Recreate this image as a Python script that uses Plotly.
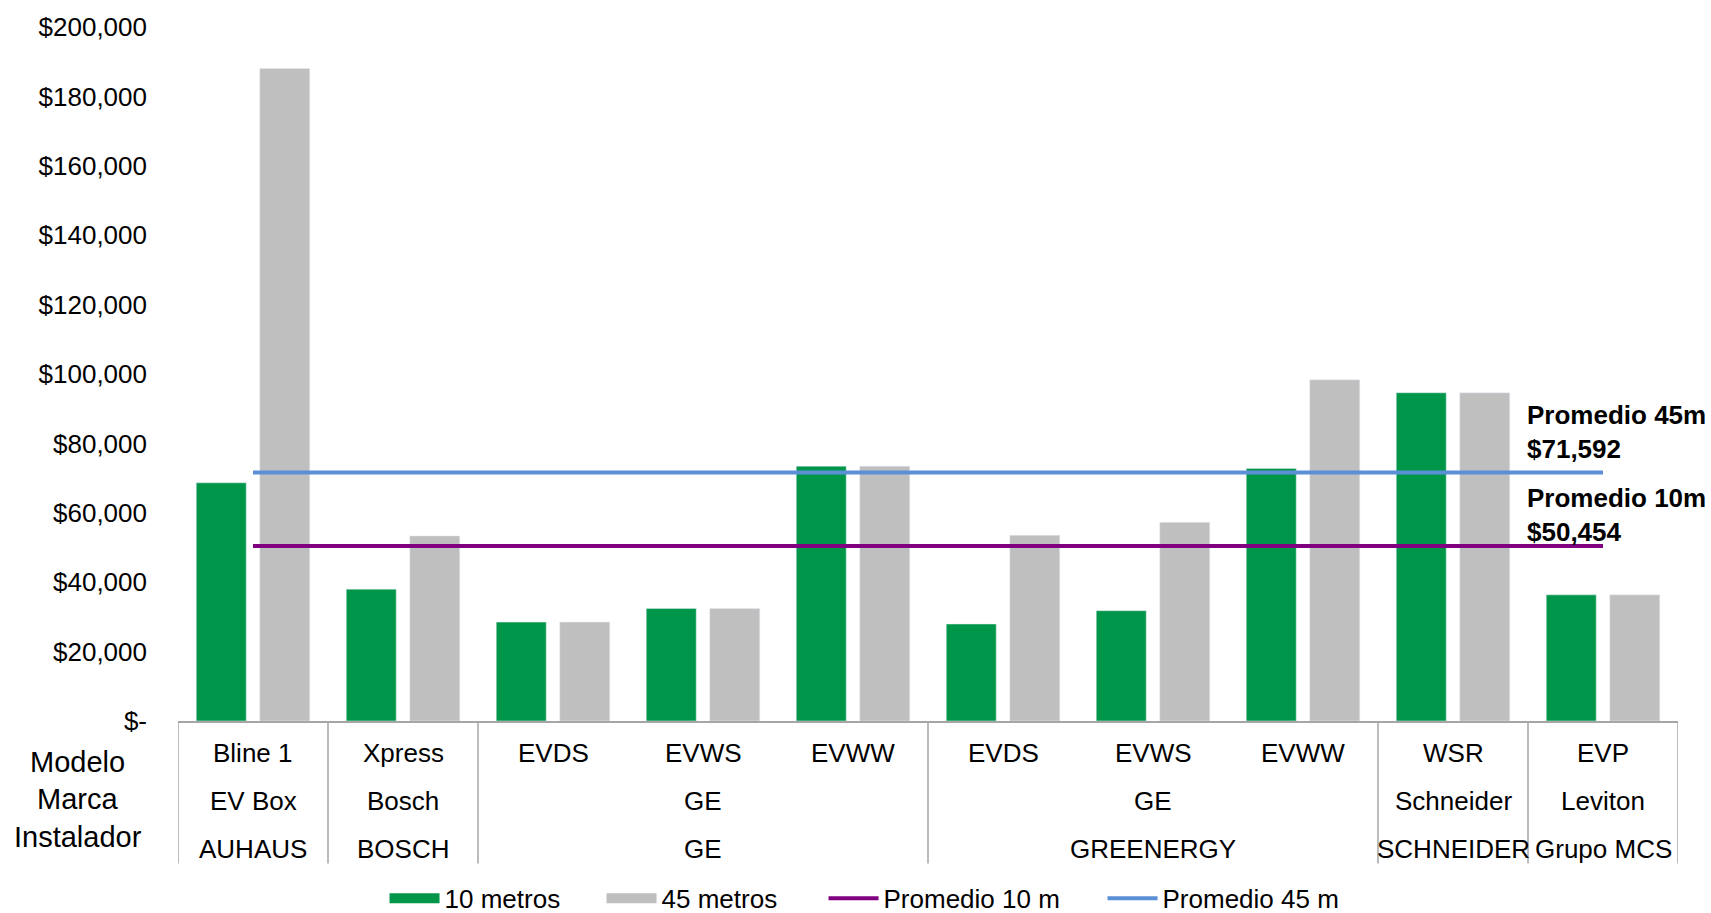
import plotly.graph_objects as go

# ---------------- data ----------------
modelo = ["Bline 1", "Xpress", "EVDS", "EVWS", "EVWW", "EVDS", "EVWS", "EVWW", "WSR", "EVP"]
marca = ["EV Box", "Bosch", "GE", "GE", "GE", "GE", "GE", "GE", "Schneider", "Leviton"]
instalador = ["AUHAUS", "BOSCH", "GE", "GE", "GE", "GREENERGY", "GREENERGY", "GREENERGY",
              "SCHNEIDER", "Grupo MCS"]
costo_10m = [68650, 38000, 28500, 32450, 73450, 27950, 31800, 72800, 94600, 36350]
costo_45m = [188050, 53350, 28500, 32450, 73450, 53550, 57250, 98350, 94600, 36350]
promedio_10m = 50454
promedio_45m = 71592
y_tickvals = [0, 20000, 40000, 60000, 80000, 100000, 120000, 140000, 160000, 180000, 200000]
y_ticktext = ["$-", "$20,000", "$40,000", "$60,000", "$80,000", "$100,000", "$120,000",
              "$140,000", "$160,000", "$180,000", "$200,000"]
row_titles = ["Modelo", "Marca", "Instalador"]
series_names = ["10 metros", "45 metros", "Promedio 10 m", "Promedio 45 m"]

# ---------------- style ----------------
FONT = "Liberation Sans, Arial, sans-serif"
FS = 26
GREEN = "#00964A"
GRAY = "#BFBFBF"
PURPLE = "#800080"
BLUE = "#5B8FD6"
LINE_GRAY = "#A6A6A6"
legend_widths = [152, 157, 214, 200]

x = list(range(len(modelo)))

fig = go.Figure()
fig.add_trace(go.Bar(x=x, y=costo_10m, name=series_names[0], marker_color=GREEN,
                     legendgroup="g10", showlegend=False))
fig.add_trace(go.Bar(x=x, y=costo_45m, name=series_names[1], marker_color=GRAY,
                     legendgroup="g45", showlegend=False))
# legend swatches for the bar series (wide rectangles like the original)
fig.add_trace(go.Scatter(x=[None], y=[None], mode="lines", name=series_names[0],
                         legendgroup="g10", legendwidth=legend_widths[0],
                         line=dict(color=GREEN, width=16)))
fig.add_trace(go.Scatter(x=[None], y=[None], mode="lines", name=series_names[1],
                         legendgroup="g45", legendwidth=legend_widths[1],
                         line=dict(color=GRAY, width=16)))
fig.add_trace(go.Scatter(x=[x[0], x[-1]], y=[promedio_10m, promedio_10m], mode="lines",
                         name=series_names[2], legendwidth=legend_widths[2],
                         line=dict(color=PURPLE, width=4)))
fig.add_trace(go.Scatter(x=[x[0], x[-1]], y=[promedio_45m, promedio_45m], mode="lines",
                         name=series_names[3], legendwidth=legend_widths[3],
                         line=dict(color=BLUE, width=4)))

annotations = []
shapes = []

# average labels
for val, lab, ys in [(promedio_45m, "Promedio 45m", 7), (promedio_10m, "Promedio 10m", -3)]:
    annotations.append(dict(
        xref="paper", x=0.898, xanchor="left",
        yref="y", y=val, yanchor="bottom", yshift=ys,
        text=f"<b>{lab}<br>${val:,}</b>", showarrow=False, align="left",
        font=dict(family=FONT, size=FS, color="black")))

# category table
row_y = [-0.046, -0.115, -0.184]
title_y = [-0.059, -0.112, -0.167]
table_bottom = -0.2055


def runs(keys):
    out = []
    start = 0
    for i in range(1, len(keys) + 1):
        if i == len(keys) or keys[i] != keys[start]:
            out.append((start, i - 1))
            start = i
    return out


levels = [
    (modelo, list(zip(range(len(modelo)), modelo))),
    (marca, list(zip(instalador, marca))),
    (instalador, instalador),
]
for r, (labels, keys) in enumerate(levels):
    for s, e in runs(keys):
        annotations.append(dict(
            xref="x", x=(s + e) / 2, xanchor="center",
            yref="paper", y=row_y[r], yanchor="middle",
            text=labels[s], showarrow=False,
            font=dict(family=FONT, size=FS, color="black")))

# dividers at group boundaries
bounds = sorted({s - 0.5 for s, e in runs(list(zip(instalador, marca)))} | {x[-1] + 0.5})
for b in bounds:
    shapes.append(dict(type="line", xref="x", x0=b, x1=b, yref="paper", y0=0, y1=table_bottom,
                       line=dict(color=LINE_GRAY, width=1.5)))

for t, yy in zip(row_titles, title_y):
    annotations.append(dict(
        xref="paper", x=-0.067, xanchor="center",
        yref="paper", y=yy, yanchor="middle",
        text=t, showarrow=False,
        font=dict(family=FONT, size=29, color="black")))

fig.update_layout(
    width=1711, height=913,
    margin=dict(l=178, r=33, t=25, b=192),
    paper_bgcolor="white", plot_bgcolor="white",
    font=dict(family=FONT, size=FS, color="black"),
    barmode="group", bargap=0.153, bargroupgap=0.213,
    showlegend=True,
    legend=dict(orientation="h", xref="container", x=0.512, xanchor="center",
                yref="container", y=0.016, yanchor="middle", itemwidth=50,
                font=dict(family=FONT, size=FS, color="black"),
                bgcolor="rgba(0,0,0,0)"),
    annotations=annotations,
    shapes=shapes,
)
fig.update_xaxes(range=[-0.5, len(modelo) - 0.5], showticklabels=False, showgrid=False,
                 zeroline=False, showline=True, linecolor=LINE_GRAY, linewidth=1.5, ticks="")
fig.update_yaxes(range=[0, 200000], tickvals=y_tickvals, ticktext=y_ticktext,
                 showgrid=False, zeroline=False, showline=False, ticks="",
                 ticklabelstandoff=30,
                 tickfont=dict(family=FONT, size=FS, color="black"))

fig.write_html("out.html")
